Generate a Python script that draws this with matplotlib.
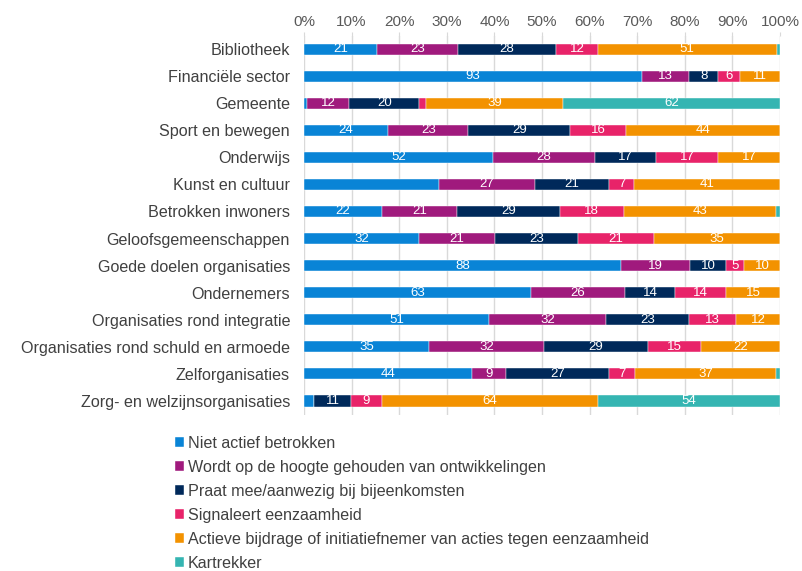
import numpy as np
import matplotlib
matplotlib.use("Agg")
import matplotlib.pyplot as plt

plt.rcParams['font.family'] = ['Liberation Sans', 'DejaVu Sans']

categories = ["Bibliotheek", "Financiële sector", "Gemeente", "Sport en bewegen",
              "Onderwijs", "Kunst en cultuur", "Betrokken inwoners",
              "Geloofsgemeenschappen", "Goede doelen organisaties", "Ondernemers",
              "Organisaties rond integratie", "Organisaties rond schuld en armoede",
              "Zelforganisaties", "Zorg- en welzijnsorganisaties"]

series = ["Niet actief betrokken",
          "Wordt op de hoogte gehouden van ontwikkelingen",
          "Praat mee/aanwezig bij bijeenkomsten",
          "Signaleert eenzaamheid",
          "Actieve bijdrage of initiatiefnemer van acties tegen eenzaamheid",
          "Kartrekker"]

niet_actief = [21, 93, 1, 24, 52, 38, 22, 32, 88, 63, 51, 35, 44, 3]
op_de_hoogte = [23, 13, 12, 23, 28, 27, 21, 21, 19, 26, 32, 32, 9, 0]
praat_mee = [28, 8, 20, 29, 17, 21, 29, 23, 10, 14, 23, 29, 27, 11]
signaleert = [12, 6, 2, 16, 17, 7, 18, 21, 5, 14, 13, 15, 7, 9]
actieve_bijdrage = [51, 11, 39, 44, 17, 41, 43, 35, 10, 15, 12, 22, 37, 64]
kartrekker = [1, 0, 62, 0, 0, 0, 1, 0, 0, 0, 0, 0, 1, 54]

colors = ["#0984D6", "#A01A7D", "#00295A", "#E82369", "#F39200", "#35B5B2"]

# label missing in the original for this segment
hidden = {(5, 0)}

counts = np.array([niet_actief, op_de_hoogte, praat_mee, signaleert,
                   actieve_bijdrage, kartrekker], dtype=float)
pct = counts / counts.sum(axis=0) * 100

fig = plt.figure(figsize=(8.02, 5.71), dpi=100)
ax = fig.add_axes([0.379, 0.274, 0.5936, 0.6638])

y = np.arange(len(categories))
left = np.zeros(len(categories))
for s in range(len(series)):
    ax.barh(y, pct[s], left=left, height=0.41, color=colors[s],
            edgecolor="white", linewidth=0.3, label=series[s], zorder=3)
    for i in range(len(categories)):
        v = counts[s, i]
        if v >= 5 and (i, s) not in hidden:
            ax.text(left[i] + pct[s, i] / 2, y[i], f"{int(v)}", ha="center",
                    va="center", color="white", fontsize=9.5, zorder=4)
    left += pct[s]

ax.set_xlim(0, 100)
ax.set_ylim(len(categories) - 0.5, -0.5)
ax.set_xticks(np.arange(0, 101, 10))
ax.set_xticklabels([f"{t}%" for t in range(0, 101, 10)])
ax.xaxis.tick_top()
ax.tick_params(axis="x", colors="#D9D9D9", labelcolor="#595959", labelsize=11,
               length=3, pad=1.5)
ax.set_yticks(y)
ax.set_yticklabels(categories)
ax.tick_params(axis="y", length=0, labelcolor="#404040", labelsize=11.6, pad=10)
ax.grid(axis="x", color="#D9D9D9", linewidth=1, zorder=0)
for sp in ax.spines.values():
    sp.set_visible(False)

fig.legend(loc="upper left", bbox_to_anchor=(0.218, 0.237), frameon=False,
           fontsize=11.6, labelcolor="#404040", handlelength=0.55,
           handleheight=0.55, handletextpad=0.25, labelspacing=0.56,
           borderaxespad=0, borderpad=0)

fig.savefig("out.png", dpi=100)
